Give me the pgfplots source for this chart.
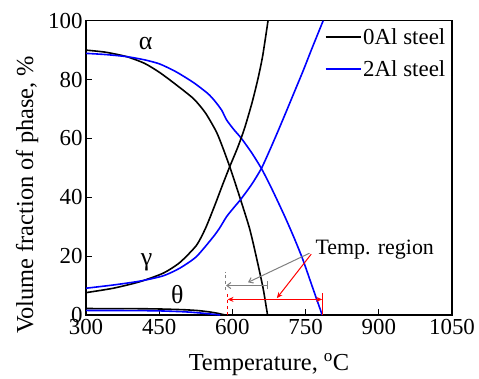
\documentclass[border=0pt]{standalone}
\usepackage{fontspec}
\setmainfont{Liberation Serif}
\usepackage{pgfplots}
\pgfplotsset{compat=1.18}
\usetikzlibrary{arrows.meta}
\definecolor{pblue}{RGB}{0,0,255}
\definecolor{pred}{RGB}{255,0,0}
\definecolor{pgray}{RGB}{128,128,128}
\tikzset{crv/.style={line width=1.6bp, smooth, tension=0.4}}
\begin{document}
\begin{tikzpicture}
\begin{axis}[
  scale only axis, width=366bp, height=294.3bp,
  xmin=300, xmax=1050, ymin=0, ymax=100,
  xtick={300,450,600,750,900,1050}, ytick={0,20,40,60,80,100},
  tick align=inside, xtick pos=left, ytick pos=left,
  major tick length=6bp,
  axis line style={line width=1.3bp},
  every tick/.style={line width=1.1bp, black},
  /pgf/number format/assume math mode=true,
  /pgf/number format/1000 sep={},
  ticklabel style={font=\fontsize{23}{26}\selectfont},
  xticklabel style={yshift=-0.5bp},
  xlabel={Temperature, \textsuperscript{o}C},
  ylabel={Volume fraction of phase, \%},
  label style={font=\fontsize{24.5}{28}\selectfont},
  xlabel style={at={(axis description cs:0.5,-0.1869)}, anchor=base},
  ylabel style={at={(axis description cs:-0.1448,0.408)}, anchor=base},
  legend style={at={(axis description cs:1,1)}, anchor=north east, xshift=-2bp, yshift=-4bp,
    draw=none, fill=none, font=\fontsize{23}{26}\selectfont, row sep=11.5bp,
    nodes={inner sep=1.5bp}},
  legend cell align=left,
  legend image code/.code={\draw[#1, line width=2bp] (0bp,0bp) -- (35bp,0bp);},
]
% 0Al alpha
\addplot[black, crv] coordinates {(300,90.0) (340,89.3) (383,87.8) (420,85.5) (451,82.4) (485,78.2) (521,73.4) (545,68.6) (567,62.3) (580,57) (594.5,50.4) (611.5,41.9) (635,29.5) (650,19) (663,9) (672,0)};
\addlegendentry{0Al steel}
% 2Al alpha
\addplot[pblue, crv] coordinates {(300,88.9) (340,88.5) (383,87.8) (420,86.7) (451,85.3) (485,82.6) (521,78.9) (550,75.2) (564,72.7) (578,69.6) (588,66.3) (603,63) (618.5,60) (640,55) (659.4,49.8) (676,44.5) (693,38.6) (710,32.5) (727,26) (744,19) (764,9.5) (784,0)};
\addlegendentry{2Al steel}
% 0Al gamma
\addplot[black, crv, forget plot] coordinates {(300,7.6) (356,9.1) (410,11.3) (458,14.2) (492,17.8) (526,23.6) (545,29.5) (564,37.3) (580,44.3) (594.5,50.4) (611,57) (625,63.5) (640,72) (652,80) (662,88) (673,100)};
% 2Al gamma
\addplot[pblue, crv, forget plot] coordinates {(300,9.1) (356,10.2) (410,11.5) (458,13.3) (492,15.9) (526,19.8) (560,26.4) (574,29.6) (588,33.4) (603,36.5) (618.5,39.6) (640,44.5) (659.4,49.8) (676,55.8) (693,62.3) (710,69) (727.5,76) (745,83) (761.6,90) (775,95.5) (786,100)};
% theta
\addplot[black, crv, forget plot] coordinates {(300,2.2) (400,2.15) (450,2.05) (500,1.8) (530,1.5) (555,1.0) (572,0.5) (585,0)};
\addplot[pblue, crv, forget plot] coordinates {(300,1.55) (400,1.5) (450,1.4) (500,1.1) (530,0.75) (555,0.35) (575,0)};
% phase labels
\node[font=\fontsize{26}{28}\selectfont] at (axis cs:422,92.4) {α};
\node[font=\fontsize{26}{28}\selectfont] at (axis cs:424,17.8) {γ};
\node[font=\fontsize{26}{28}\selectfont] at (axis cs:487,7.1) {θ};
% temperature regions
\draw[pgray, line width=1bp, dash pattern=on 3bp off 3bp] (axis cs:586,8.5) -- (axis cs:586,14.7);
\draw[pgray, line width=1bp, -{Straight Barb[length=4bp,width=6bp]}] (axis cs:672,10) -- (axis cs:587,10);
\draw[pgray, line width=1bp] (axis cs:672,8.7) -- (axis cs:672,11.4);
\draw[pred, line width=1bp, dash pattern=on 3bp off 3bp] (axis cs:589,0) -- (axis cs:589,7.5);
\draw[pred, line width=1bp] (axis cs:785,0) -- (axis cs:785,7.5);
\draw[pred, line width=1bp, {Stealth[length=6bp,width=5bp]}-{Stealth[length=6bp,width=5bp]}] (axis cs:590,5.3) -- (axis cs:784,5.3);
\draw[pgray, line width=1bp, -{Straight Barb[length=4bp,width=6bp]}] (axis cs:758,21) -- (axis cs:632,11.1);
\draw[pred, line width=1bp, -{Stealth[length=6bp,width=5bp]}] (axis cs:761.6,20.7) -- (axis cs:691,5.7);
\node[anchor=west, inner sep=0pt, font=\fontsize{22}{26}\selectfont] at (axis cs:770,22.3) {Temp. region};
\end{axis}
\pgfresetboundingbox
\path[use as bounding box] ([xshift=-86bp,yshift=-63bp]current axis.south west) rectangle ([xshift=27bp,yshift=20.7bp]current axis.north east);
\end{tikzpicture}
\end{document}
